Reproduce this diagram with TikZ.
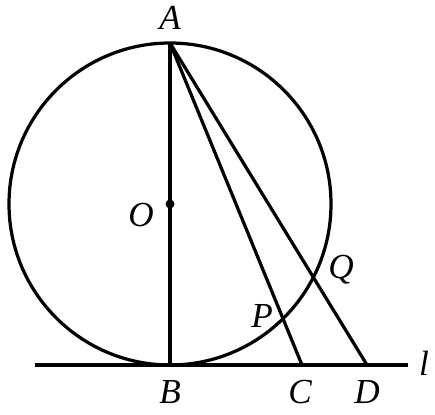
\documentclass[tikz,border=0pt]{standalone}
\usepackage{fontspec}
\setmainfont{Liberation Serif}
\usetikzlibrary{intersections}

\begin{document}
\begin{tikzpicture}
    [x=0.025cm, y=-0.025cm, line width=2.3pt,
     lbl/.style={font=\fontsize{25}{28}\selectfont\itshape, inner sep=0pt}]
    \useasboundingbox (0, 0) rectangle (435, 415);
    \coordinate (O) at (170, 204);
    \coordinate (A) at (170, 43);
    \coordinate (B) at (170, 365);
    \coordinate (C) at (302, 365);
    \coordinate (D) at (367, 365);
    \coordinate (lstart) at (35, 365);
    \coordinate (lend) at (408, 365);
    \draw[name path=circ] (O) circle (161);
    \draw (lstart) -- (lend);
    \draw (A) -- (B);
    \draw[name path=ac] (A) -- (C);
    \draw[name path=ad] (A) -- (D);
    \path[name intersections={of=circ and ac, by={P1,P}}];
    \path[name intersections={of=circ and ad, by={Q1,Q}}];
    \fill (O) circle (4.5);
    % labels
    \node[lbl] (labA) at (170, 18) {A};
    \node[lbl] (labB) at (170, 392) {B};
    \node[lbl] (labC) at (300, 392) {C};
    \node[lbl] (labD) at (367, 392) {D};
    \node[lbl] (labO) at (141, 215) {O};
    \node[lbl] (labP) at (262, 316) {P};
    \node[lbl] (labQ) at (341, 270) {Q};
    \node[lbl] (labl) at (424, 363) {l};
  \end{tikzpicture}
\end{document}
